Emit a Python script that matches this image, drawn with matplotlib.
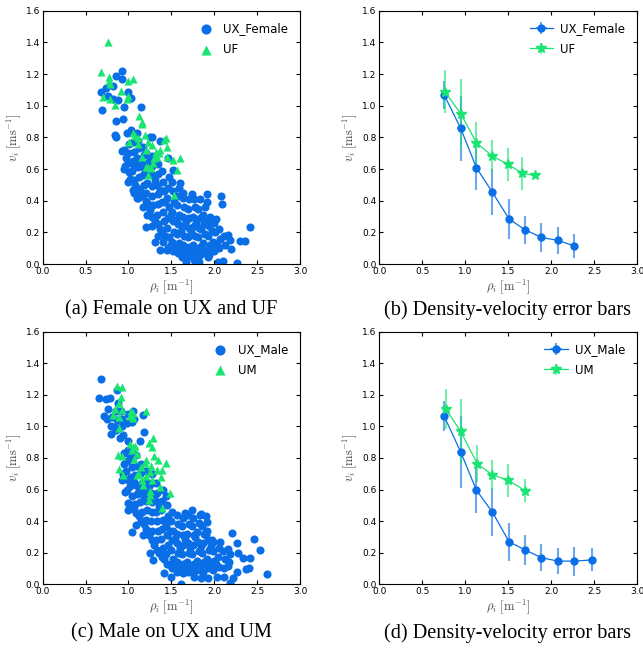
import matplotlib
matplotlib.use("Agg")
import matplotlib.pyplot as plt

plt.rcParams['mathtext.fontset'] = 'cm'
plt.rcParams['font.family'] = 'DejaVu Sans'

BLUE = '#0a6fe6'
GREEN = '#1ae472'

# ---- panel (a): female scatter ----
ux_female = [
    (0.676, 1.084), (0.696, 0.973), (0.74, 1.11), (0.766, 1.063), (0.82, 1.124),
    (0.86, 1.19), (0.93, 1.22), (0.92, 1.17), (0.82, 1.04), (0.88, 1.036),
    (1.0, 1.084), (1.03, 1.046), (0.95, 0.99), (0.855, 0.905), (0.94, 0.914),
    (0.847, 0.817), (0.85, 0.80), (1.15, 0.99), (1.03, 0.846), (0.98, 0.83),
    (1.1, 0.825), (0.92, 0.716), (0.95, 0.60), (1.02, 0.54), (1.25, 0.80),
    (1.07, 0.446), (1.1, 0.415), (1.2, 0.236), (1.31, 0.14), (1.37, 0.088),
    (1.45, 0.088), (1.52, 0.105), (1.62, 0.046), (1.67, 0.01), (1.76, 0.025),
    (1.82, 0.015), (1.93, 0.046), (2.04, 0.015), (2.10, 0.021), (2.27, 0.004),
    (2.30, 0.147), (2.36, 0.147), (2.42, 0.232), (2.08, 0.432), (2.09, 0.377),
    (1.92, 0.44), (1.91, 0.39), (2.02, 0.282), (2.18, 0.152), (2.20, 0.093),
    (2.16, 0.183), (1.60, 0.51), (1.63, 0.45), (1.74, 0.44), (1.83, 0.41),
    (1.37, 0.78), (1.27, 0.80), (1.465, 0.667), (1.52, 0.594),
    (0.96, 0.62), (0.97, 0.67), (0.95, 0.72),
    (1.0, 0.52), (1.01, 0.58), (0.99, 0.64), (1.0, 0.70), (1.01, 0.76),
    (1.05, 0.47), (1.06, 0.53), (1.04, 0.59), (1.05, 0.65), (1.06, 0.71), (1.05, 0.77),
    (1.11, 0.42), (1.10, 0.48), (1.12, 0.55), (1.11, 0.61), (1.10, 0.67), (1.12, 0.73), (1.11, 0.78),
    (1.17, 0.36), (1.16, 0.43), (1.18, 0.50), (1.17, 0.56), (1.16, 0.62), (1.18, 0.69), (1.17, 0.74),
    (1.22, 0.31), (1.23, 0.38), (1.21, 0.45), (1.22, 0.51), (1.23, 0.58), (1.22, 0.64), (1.21, 0.70),
    (1.28, 0.24), (1.27, 0.30), (1.29, 0.37), (1.28, 0.43), (1.27, 0.49), (1.29, 0.56), (1.28, 0.62), (1.27, 0.68),
    (1.34, 0.18), (1.35, 0.25), (1.33, 0.31), (1.34, 0.38), (1.35, 0.44), (1.33, 0.50), (1.34, 0.57), (1.35, 0.63),
    (1.40, 0.14), (1.39, 0.20), (1.41, 0.27), (1.40, 0.33), (1.39, 0.39), (1.41, 0.46), (1.40, 0.52), (1.39, 0.59),
    (1.46, 0.10), (1.47, 0.17), (1.45, 0.23), (1.46, 0.29), (1.47, 0.36), (1.45, 0.42), (1.46, 0.48), (1.47, 0.55),
    (1.52, 0.08), (1.51, 0.14), (1.53, 0.20), (1.52, 0.27), (1.51, 0.33), (1.53, 0.39), (1.52, 0.46), (1.51, 0.52),
    (1.58, 0.07), (1.59, 0.13), (1.57, 0.19), (1.58, 0.25), (1.59, 0.31), (1.57, 0.37), (1.58, 0.43), (1.59, 0.48),
    (1.64, 0.06), (1.63, 0.12), (1.65, 0.18), (1.64, 0.24), (1.63, 0.30), (1.65, 0.36), (1.64, 0.42),
    (1.70, 0.05), (1.71, 0.11), (1.69, 0.17), (1.70, 0.23), (1.71, 0.29), (1.69, 0.35), (1.70, 0.41),
    (1.76, 0.06), (1.75, 0.12), (1.77, 0.18), (1.76, 0.24), (1.75, 0.30), (1.77, 0.36), (1.76, 0.41),
    (1.82, 0.05), (1.83, 0.11), (1.81, 0.17), (1.82, 0.23), (1.83, 0.29), (1.81, 0.35),
    (1.88, 0.07), (1.87, 0.13), (1.89, 0.19), (1.88, 0.25), (1.87, 0.31), (1.89, 0.36),
    (1.94, 0.06), (1.95, 0.12), (1.93, 0.18), (1.94, 0.24), (1.95, 0.30),
    (2.00, 0.08), (1.99, 0.14), (2.01, 0.20), (2.00, 0.26),
    (2.06, 0.10), (2.07, 0.16), (2.05, 0.22),
    (2.12, 0.12), (2.11, 0.18),
    (1.08, 0.50), (1.14, 0.46), (1.20, 0.40), (1.25, 0.34), (1.31, 0.27),
    (1.37, 0.22), (1.43, 0.18), (1.49, 0.12), (1.55, 0.11), (1.61, 0.09),
    (1.67, 0.08), (1.73, 0.08), (1.79, 0.08), (1.85, 0.10), (1.91, 0.09),
    (1.97, 0.10), (2.03, 0.12), (1.31, 0.53), (1.37, 0.47), (1.43, 0.39),
    (1.49, 0.31), (1.55, 0.28), (1.61, 0.21), (1.67, 0.27), (1.73, 0.20),
    (1.79, 0.26), (1.85, 0.22), (1.91, 0.28), (1.97, 0.21), (1.25, 0.66),
    (1.19, 0.59), (1.13, 0.64), (1.07, 0.62),
]

uf = [
    (0.766, 1.40), (0.676, 1.21), (0.77, 1.18), (0.77, 1.156), (0.78, 1.135),
    (0.70, 1.055), (0.785, 1.042), (0.847, 1.006), (0.913, 1.093), (0.99, 1.156),
    (1.05, 1.166), (0.99, 1.063), (0.98, 1.042), (1.127, 0.935), (1.16, 0.895),
    (1.155, 0.884), (1.057, 0.825), (1.076, 0.808), (1.116, 0.794), (1.194, 0.815),
    (1.01, 0.773), (1.116, 0.756), (1.23, 0.768), (1.27, 0.751), (1.32, 0.709),
    (1.37, 0.72), (1.41, 0.783), (1.45, 0.741), (1.44, 0.794), (1.30, 0.667),
    (1.23, 0.615), (1.26, 0.604), (1.21, 0.61), (1.154, 0.678), (1.29, 0.636),
    (1.33, 0.678), (1.446, 0.678), (1.52, 0.657), (1.60, 0.672), (1.57, 0.594),
    (1.23, 0.562), (1.535, 0.436), (1.21, 0.72), (1.36, 0.70),
]

# ---- panel (c): male scatter ----
ux_male = [
    (0.68, 1.30), (0.656, 1.182), (0.74, 1.173), (0.785, 1.182), (0.76, 1.11),
    (0.71, 1.066), (0.75, 1.045), (0.863, 1.23), (0.88, 1.15), (0.80, 0.95),
    (0.845, 0.998), (0.90, 0.925), (0.94, 0.944), (1.04, 1.03), (1.07, 1.05),
    (1.17, 1.07), (1.18, 0.967), (1.13, 0.91), (1.04, 0.83), (0.95, 0.83),
    (1.0, 0.91), (0.93, 0.66), (0.96, 0.583), (1.0, 0.513), (1.0, 0.47),
    (1.045, 0.333), (1.09, 0.376), (1.17, 0.312), (1.25, 0.196), (1.29, 0.154),
    (1.41, 0.07), (1.49, 0.049), (1.61, 0.0), (1.76, 0.049), (1.85, 0.038),
    (1.93, 0.042), (2.03, 0.049), (2.11, 0.049), (2.18, 0.006), (2.22, 0.038),
    (2.21, 0.323), (2.27, 0.264), (2.28, 0.196), (2.34, 0.165), (2.42, 0.165),
    (2.37, 0.095), (2.41, 0.101), (2.46, 0.29), (2.53, 0.217), (2.62, 0.063),
    (2.16, 0.222), (2.16, 0.116), (2.26, 0.08), (2.07, 0.27), (1.97, 0.28),
    (1.91, 0.397), (1.83, 0.44), (1.74, 0.47), (1.66, 0.45), (1.90, 0.43), (1.85, 0.443),
    (0.80, 1.00), (0.81, 1.06), (0.86, 0.98), (0.87, 1.04), (0.85, 1.10),
    (0.92, 1.00), (0.93, 1.05), (0.91, 1.10), (0.98, 1.02), (0.99, 1.08),
    (1.04, 1.06), (1.05, 1.10),
    (0.94, 0.70), (0.95, 0.76),
    (0.98, 0.60), (0.99, 0.66), (0.97, 0.72), (0.98, 0.78), (0.99, 0.85),
    (1.03, 0.50), (1.04, 0.56), (1.02, 0.62), (1.03, 0.68), (1.04, 0.74), (1.02, 0.80),
    (1.09, 0.45), (1.08, 0.51), (1.10, 0.57), (1.09, 0.63), (1.08, 0.69), (1.10, 0.75), (1.09, 0.82),
    (1.15, 0.40), (1.16, 0.46), (1.14, 0.52), (1.15, 0.58), (1.16, 0.64), (1.14, 0.70), (1.15, 0.76),
    (1.21, 0.35), (1.20, 0.41), (1.22, 0.47), (1.21, 0.53), (1.20, 0.59), (1.22, 0.65), (1.21, 0.72),
    (1.27, 0.28), (1.28, 0.34), (1.26, 0.40), (1.27, 0.46), (1.28, 0.52), (1.26, 0.58), (1.27, 0.64), (1.28, 0.70),
    (1.33, 0.22), (1.32, 0.28), (1.34, 0.34), (1.33, 0.40), (1.32, 0.46), (1.34, 0.52), (1.33, 0.58), (1.32, 0.64),
    (1.39, 0.17), (1.40, 0.23), (1.38, 0.29), (1.39, 0.35), (1.40, 0.41), (1.38, 0.47), (1.39, 0.53), (1.40, 0.60),
    (1.45, 0.13), (1.44, 0.19), (1.46, 0.25), (1.45, 0.31), (1.44, 0.37), (1.46, 0.43), (1.45, 0.50), (1.44, 0.56),
    (1.51, 0.10), (1.52, 0.16), (1.50, 0.22), (1.51, 0.28), (1.52, 0.34), (1.50, 0.40), (1.51, 0.46),
    (1.57, 0.08), (1.56, 0.14), (1.58, 0.20), (1.57, 0.26), (1.56, 0.32), (1.58, 0.38), (1.57, 0.44),
    (1.63, 0.07), (1.64, 0.13), (1.62, 0.19), (1.63, 0.25), (1.64, 0.31), (1.62, 0.37), (1.63, 0.42),
    (1.69, 0.08), (1.68, 0.14), (1.70, 0.20), (1.69, 0.26), (1.68, 0.32), (1.70, 0.38), (1.69, 0.44),
    (1.75, 0.07), (1.76, 0.13), (1.74, 0.19), (1.75, 0.25), (1.76, 0.31), (1.74, 0.37), (1.75, 0.42),
    (1.81, 0.09), (1.80, 0.15), (1.82, 0.21), (1.81, 0.27), (1.80, 0.33), (1.82, 0.39),
    (1.87, 0.08), (1.88, 0.14), (1.86, 0.20), (1.87, 0.26), (1.88, 0.32), (1.86, 0.37),
    (1.93, 0.10), (1.92, 0.16), (1.94, 0.22), (1.93, 0.28), (1.92, 0.34),
    (1.99, 0.09), (2.00, 0.15), (1.98, 0.21), (1.99, 0.27),
    (2.05, 0.11), (2.04, 0.17), (2.06, 0.23),
    (2.11, 0.10), (2.12, 0.16), (2.10, 0.21),
    (2.17, 0.14), (2.18, 0.19),
    (1.06, 0.48), (1.12, 0.43), (1.18, 0.38), (1.24, 0.31), (1.30, 0.25),
    (1.36, 0.20), (1.42, 0.16), (1.48, 0.12), (1.54, 0.11), (1.60, 0.10),
    (1.66, 0.11), (1.72, 0.10), (1.78, 0.11), (1.84, 0.12), (1.90, 0.13),
    (1.96, 0.12), (2.02, 0.13), (1.30, 0.55), (1.36, 0.49), (1.42, 0.40),
    (1.48, 0.34), (1.54, 0.29), (1.60, 0.23), (1.66, 0.29), (1.72, 0.23),
    (1.78, 0.30), (1.84, 0.24), (1.90, 0.31), (1.96, 0.24), (1.24, 0.62),
    (1.18, 0.55), (1.12, 0.60), (1.06, 0.65),
]

um = [
    (0.863, 1.258), (0.93, 1.25), (0.91, 1.186), (0.89, 1.148), (0.843, 1.112),
    (0.92, 1.106), (0.824, 1.074), (0.894, 1.06), (1.018, 1.064), (1.03, 1.098),
    (1.05, 1.053), (1.21, 1.10), (1.057, 1.085), (0.894, 0.992), (1.018, 0.889),
    (1.05, 0.87), (1.076, 0.874), (1.036, 0.849), (1.096, 0.827), (1.065, 0.796),
    (0.88, 0.817), (0.89, 0.728), (0.93, 0.81), (0.94, 0.692), (1.29, 0.929),
    (1.24, 0.895), (1.27, 0.87), (1.30, 0.81), (1.34, 0.79), (1.44, 0.766),
    (1.39, 0.726), (1.33, 0.722), (1.21, 0.785), (1.19, 0.768), (1.26, 0.747),
    (1.15, 0.743), (1.12, 0.70), (1.096, 0.69), (1.25, 0.713), (1.21, 0.686),
    (1.16, 0.66), (1.17, 0.629), (1.27, 0.66), (1.38, 0.68), (1.37, 0.618),
    (1.25, 0.593), (1.25, 0.566), (1.24, 0.534), (1.48, 0.576), (1.39, 0.486),
]

# ---- binned means with error bars ----
bf_rho = [0.756, 0.947, 1.13, 1.316, 1.51, 1.70, 1.887, 2.08, 2.27]
bf_v = [1.067, 0.857, 0.608, 0.453, 0.284, 0.215, 0.168, 0.149, 0.114]
bf_err = [0.09, 0.205, 0.14, 0.145, 0.126, 0.088, 0.093, 0.085, 0.075]

uf_rho = [0.763, 0.947, 1.13, 1.31, 1.50, 1.665, 1.81]
uf_v = [1.088, 0.95, 0.766, 0.684, 0.629, 0.573, 0.56]
uf_err = [0.137, 0.22, 0.128, 0.10, 0.105, 0.104, 0.01]

bm_rho = [0.756, 0.947, 1.13, 1.316, 1.51, 1.70, 1.887, 2.08, 2.27, 2.47]
bm_v = [1.063, 0.838, 0.596, 0.457, 0.269, 0.217, 0.168, 0.147, 0.147, 0.154]
bm_err = [0.095, 0.226, 0.147, 0.152, 0.12, 0.095, 0.085, 0.085, 0.092, 0.073]

um_rho = [0.775, 0.947, 1.14, 1.31, 1.50, 1.695]
um_v = [1.109, 0.968, 0.764, 0.695, 0.659, 0.594]
um_err = [0.126, 0.205, 0.116, 0.095, 0.103, 0.074]

rho_err = 0.04


def style_axes(ax):
    ax.set_xlim(0, 3.0)
    ax.set_ylim(0, 1.6)
    ax.set_xticks([0, 0.5, 1.0, 1.5, 2.0, 2.5, 3.0])
    ax.set_yticks([0, 0.2, 0.4, 0.6, 0.8, 1.0, 1.2, 1.4, 1.6])
    ax.xaxis.set_major_formatter(matplotlib.ticker.FormatStrFormatter('%.1f'))
    ax.yaxis.set_major_formatter(matplotlib.ticker.FormatStrFormatter('%.1f'))
    ax.tick_params(direction='in', top=True, right=True, labelsize=6.5, length=3, pad=2)
    ax.set_xlabel(r'$\rho_i\ [\mathrm{m}^{-1}]$', fontsize=9, color='#444444', labelpad=1)
    ax.set_ylabel(r'$v_i\ [\mathrm{ms}^{-1}]$', fontsize=9, color='#444444', labelpad=2)


def scatter_panel(ax, blue_pts, green_pts, blue_label, green_label):
    bx, by = zip(*blue_pts)
    gx, gy = zip(*green_pts)
    ax.scatter(bx, by, s=34, c=BLUE, marker='o', linewidths=0, label=blue_label)
    ax.scatter(gx, gy, s=34, c=GREEN, marker='^', linewidths=0, label=green_label)
    style_axes(ax)
    ax.legend(loc='upper right', frameon=False, fontsize=8.5, scatterpoints=1,
              markerscale=1.25, handletextpad=0.5, labelspacing=0.6, borderaxespad=0.6)


def errorbar_panel(ax, b_rho, b_v, b_err, g_rho, g_v, g_err, blue_label, green_label):
    ax.errorbar(b_rho, b_v, yerr=b_err, xerr=rho_err, fmt='-o', color=BLUE, lw=0.9,
                ms=5, mec=BLUE, ecolor=BLUE, elinewidth=1.5, label=blue_label)
    ax.errorbar(g_rho, g_v, yerr=g_err, xerr=rho_err, fmt='-*', color=GREEN, lw=0.9,
                ms=7, mec=GREEN, ecolor=GREEN, elinewidth=1.5, label=green_label)
    for coll in ax.collections:
        coll.set_alpha(0.6)
    style_axes(ax)
    ax.legend(loc='upper right', frameon=False, fontsize=8.5, numpoints=1,
              handletextpad=0.6, labelspacing=0.6, borderaxespad=0.6)


fig = plt.figure(figsize=(6.43, 6.5), dpi=100)
ax_a = fig.add_axes([0.0664, 0.5938, 0.4002, 0.3897])
ax_b = fig.add_axes([0.5899, 0.5938, 0.4010, 0.3897])
ax_c = fig.add_axes([0.0664, 0.1011, 0.4002, 0.3886])
ax_d = fig.add_axes([0.5899, 0.1011, 0.4010, 0.3886])

scatter_panel(ax_a, ux_female, uf, 'UX_Female', 'UF')
errorbar_panel(ax_b, bf_rho, bf_v, bf_err, uf_rho, uf_v, uf_err, 'UX_Female', 'UF')
scatter_panel(ax_c, ux_male, um, 'UX_Male', 'UM')
errorbar_panel(ax_d, bm_rho, bm_v, bm_err, um_rho, um_v, um_err, 'UX_Male', 'UM')

caps = [(0.266, 0.523, '(a) Female on UX and UF'),
        (0.789, 0.523, '(b) Density-velocity error bars'),
        (0.266, 0.026, '(c) Male on UX and UM'),
        (0.789, 0.026, '(d) Density-velocity error bars')]
for x, y, txt in caps:
    fig.text(x, y, txt, ha='center', va='center', fontsize=14.6,
             family='Liberation Serif')

fig.savefig('out.png', dpi=100)
